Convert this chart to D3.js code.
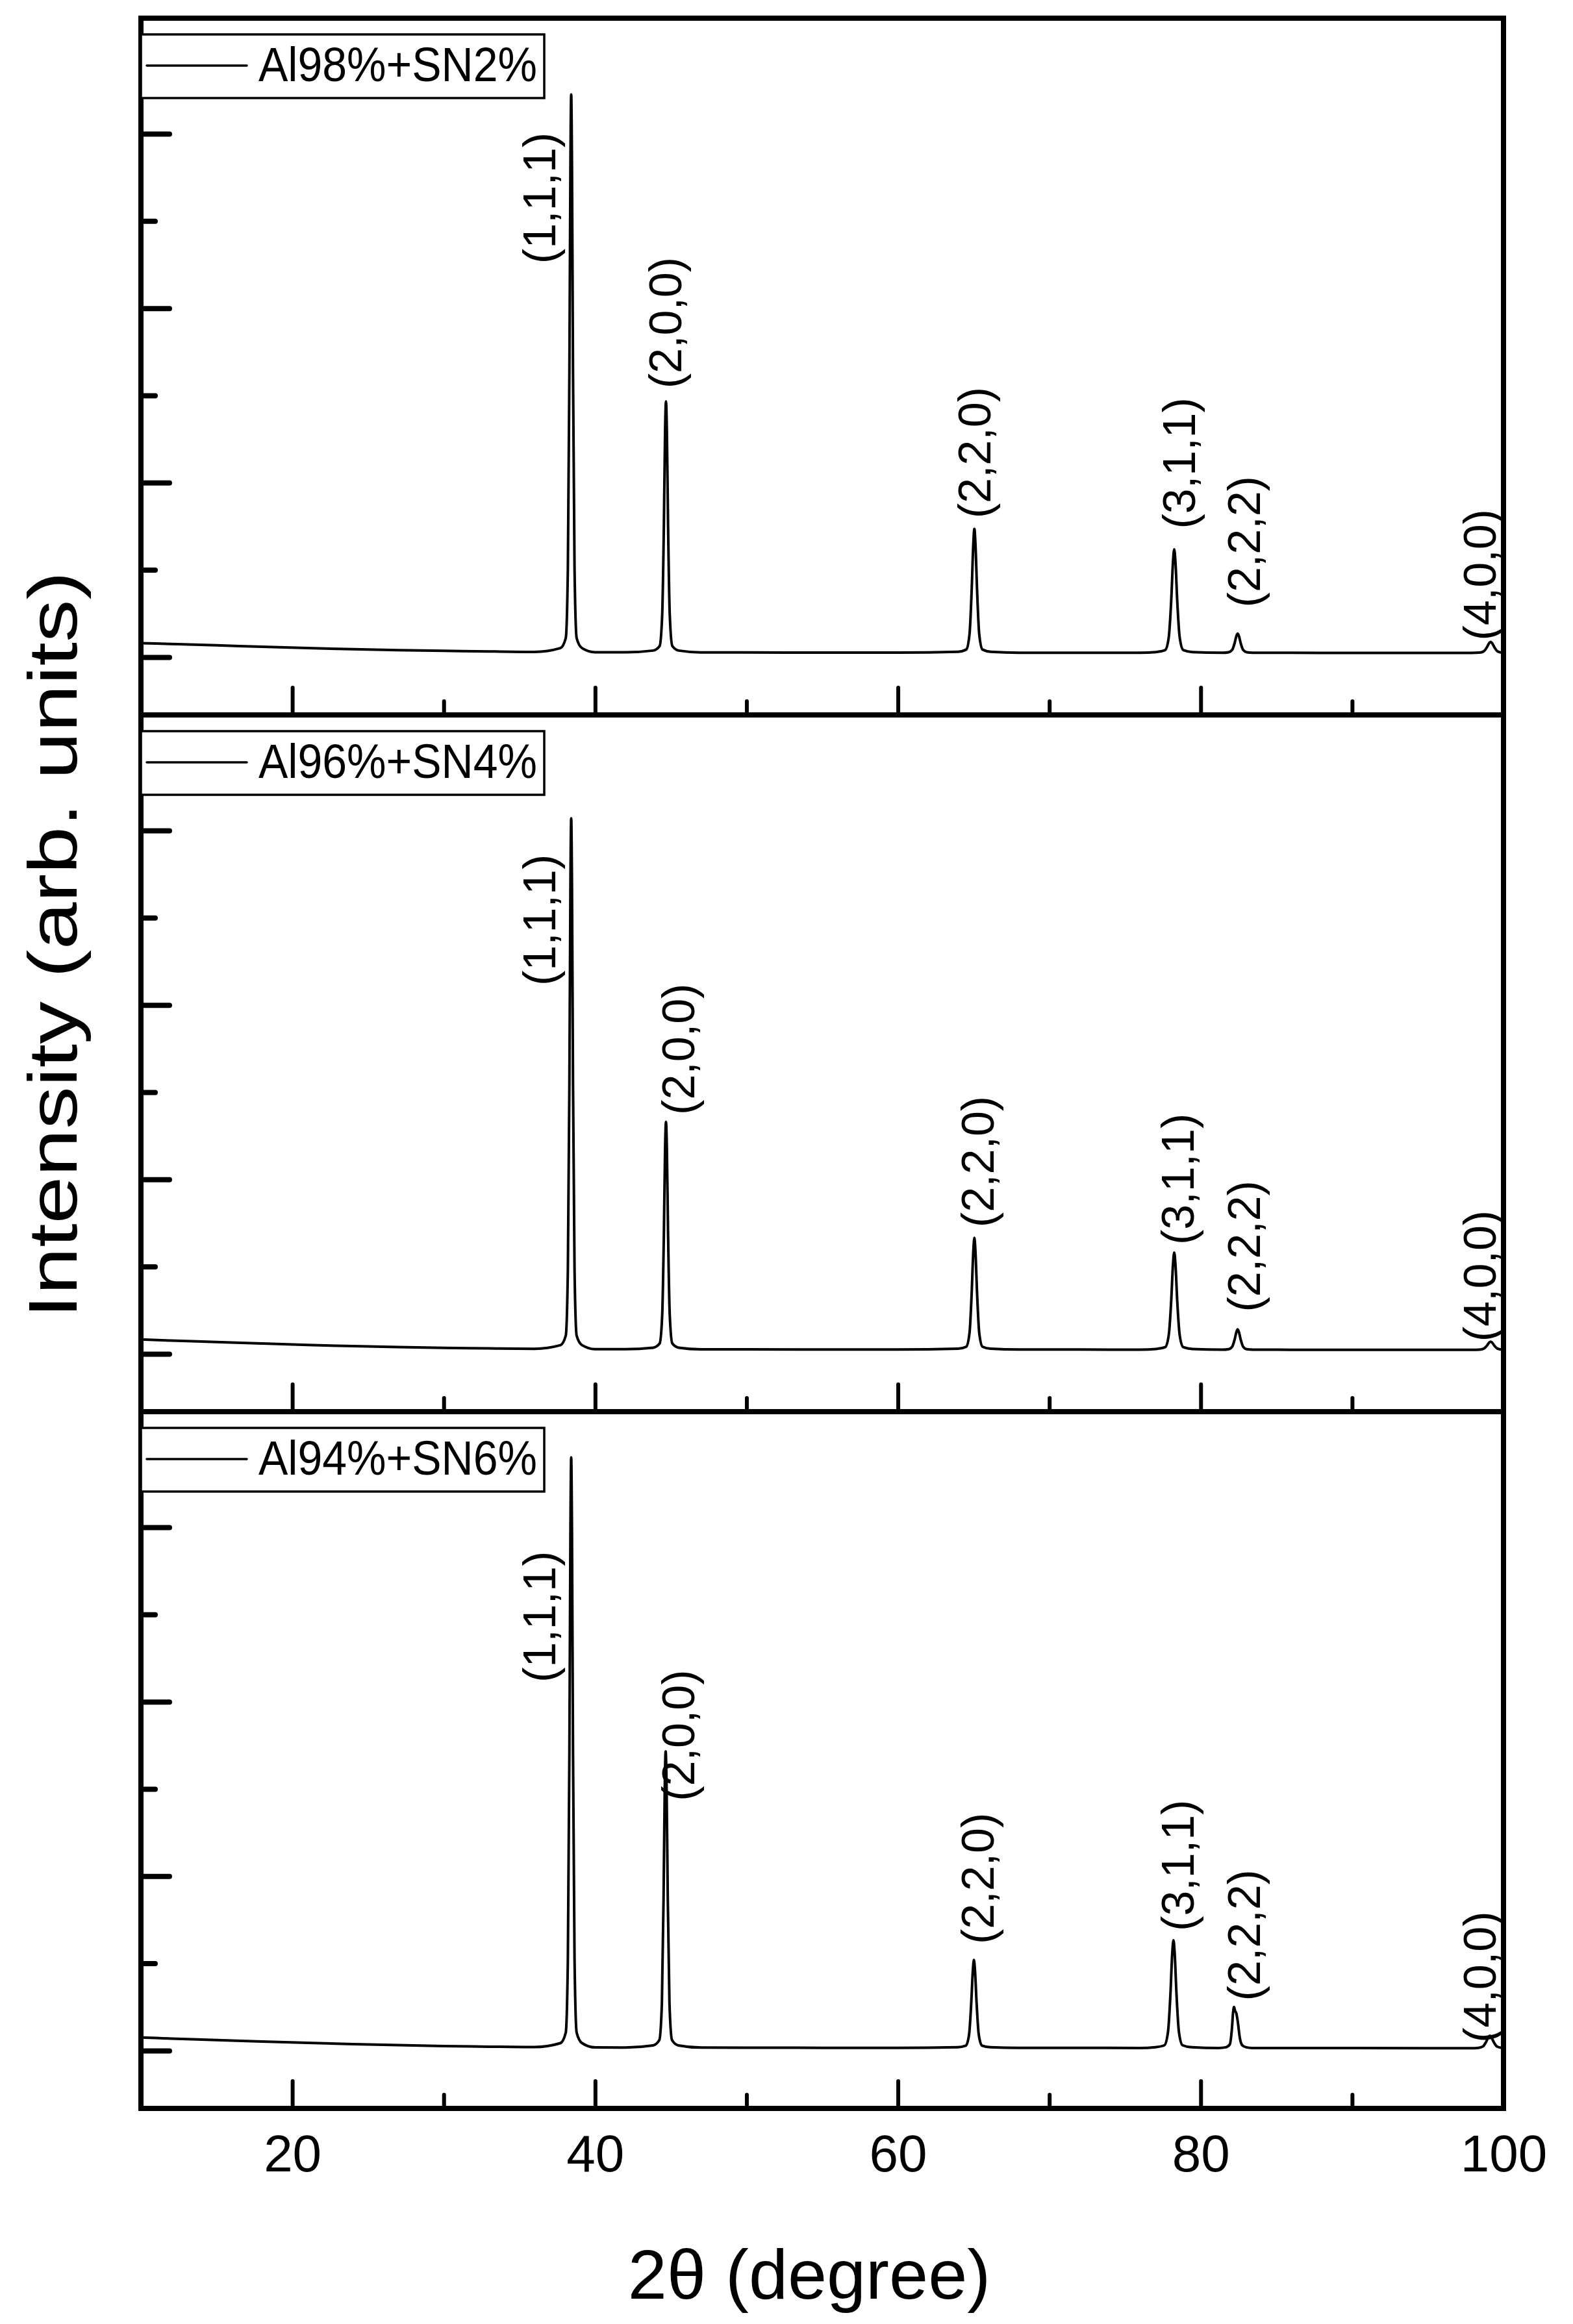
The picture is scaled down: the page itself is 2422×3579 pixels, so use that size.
<!DOCTYPE html>
<html>
<head>
<meta charset="utf-8">
<script src="https://cdn.jsdelivr.net/npm/d3@7"></script>
<style>
  html, body { margin: 0; padding: 0; background: #fff; }
  svg { display: block; }
  text { font-family: "Liberation Sans", Arial, sans-serif; fill: #000; }
</style>
</head>
<body>
<svg id="chart" width="2422" height="3579"></svg>
<script>
// ---------------- DATA ----------------
const samples = ["Al98%+SN2%", "Al96%+SN4%", "Al94%+SN6%"];
const hklLabels = ["(1,1,1)", "(2,0,0)", "(2,2,0)", "(3,1,1)", "(2,2,2)", "(4,0,0)"];
const xMajorTicks = [20, 40, 60, 80, 100];
const xMinorTicks = [30, 50, 70, 90];
const yMajorTicks = [0, 2000, 4000, 6000];
const yMinorTicks = [1000, 3000, 5000];

// label anchor 2θ per panel (centre of rotated text)
const labelX = [
  [36.35, 44.65, 65.1, 78.6, 82.9, 98.45],
  [36.35, 45.5, 65.3, 78.5, 82.9, 98.45],
  [36.35, 45.5, 65.3, 78.5, 82.9, 98.45]
];
// intensity at which each rotated label starts (its lower end)
const labelLevel = [
  [4510, 3080, 1590, 1470, 570, 190],
  [4220, 2740, 1450, 1250, 480, 140],
  [4220, 2860, 1220, 1370, 570, 90]
];

// Series: [2θ (degree), intensity (arb.)]
const seriesAl98 = [
  [10,160],[12,150],[15,135],[18,118],[21,103],[24,90],[27,80],[30,72],[33,65],[36,60],
  [37.70,103],[38.06,218],[38.20,1017],[38.30,3254],[38.37,5683],[38.42,6450],[38.47,5683],[38.54,3254],[38.64,1017],[38.78,218],[39.14,103],
  [40,56],[42,55],
  [43.84,75],[44.26,127],[44.43,486],[44.54,1493],[44.62,2585],[44.68,2930],[44.74,2585],[44.82,1493],[44.93,486],[45.10,127],[45.52,75],
  [47,54],[50,53],[55,52],[60,51],
  [63.97,61],[64.51,86],[64.73,264],[64.87,761],[64.98,1300],[65.05,1470],[65.12,1300],[65.23,761],[65.37,264],[65.59,86],[66.13,61],
  [68,50],[72,50],[76,50],
  [77.05,58],[77.65,80],[77.89,228],[78.05,643],[78.17,1093],[78.25,1235],[78.33,1093],[78.45,643],[78.61,228],[78.85,80],[79.45,58],
  [81.44,50],[81.84,56],[82.08,83],[82.24,160],[82.36,244],[82.44,270],[82.52,244],[82.64,160],[82.80,83],[83.04,56],[83.44,50],
  [86,49],[90,48],[95,48],
  [97.90,48],[98.40,51],[98.70,67],[98.90,112],[99.05,160],[99.15,175],[99.25,160],[99.40,112],[99.60,67],[99.90,51],[100,50]
];
const seriesAl96 = [
  [10,165],[12,152],[15,135],[18,118],[21,102],[24,88],[27,77],[30,68],[33,62],[36,58],
  [37.70,99],[38.06,208],[38.20,969],[38.30,3098],[38.37,5410],[38.42,6140],[38.47,5410],[38.54,3098],[38.64,969],[38.78,208],[39.14,99],
  [40,54],[42,53],
  [43.84,71],[44.26,118],[44.43,444],[44.54,1357],[44.62,2347],[44.68,2660],[44.74,2347],[44.82,1357],[44.93,444],[45.10,118],[45.52,71],
  [47,52],[50,51],[55,50],[60,50],
  [63.97,59],[64.51,82],[64.73,242],[64.87,690],[64.98,1176],[65.05,1330],[65.12,1176],[65.23,690],[65.37,242],[65.59,82],[66.13,59],
  [68,49],[72,49],[76,48],
  [77.05,56],[77.65,76],[77.89,215],[78.05,604],[78.17,1027],[78.25,1160],[78.33,1027],[78.45,604],[78.61,215],[78.85,76],[79.45,56],
  [81.44,48],[81.84,54],[82.08,83],[82.24,164],[82.36,252],[82.44,280],[82.52,252],[82.64,164],[82.80,83],[83.04,54],[83.44,48],
  [86,47],[90,47],[95,46],
  [97.90,46],[98.40,48],[98.70,60],[98.90,93],[99.05,129],[99.15,140],[99.25,129],[99.40,93],[99.60,60],[99.90,48],[100,47]
];
const seriesAl94 = [
  [10,150],[12,138],[15,120],[18,103],[21,88],[24,74],[27,62],[30,52],[33,45],[36,40],
  [37.70,85],[38.06,207],[38.20,1052],[38.30,3419],[38.37,5989],[38.42,6800],[38.47,5989],[38.54,3419],[38.64,1052],[38.78,207],[39.14,85],
  [40,36],[42,35],
  [43.82,59],[44.24,120],[44.41,544],[44.52,1733],[44.60,3023],[44.66,3430],[44.72,3023],[44.80,1733],[44.91,544],[45.08,120],[45.50,59],
  [47,34],[50,33],[55,32],[60,32],
  [63.94,39],[64.48,57],[64.70,183],[64.84,536],[64.95,919],[65.02,1040],[65.09,919],[65.20,536],[65.34,183],[65.56,57],[66.10,39],
  [68,31],[72,31],[76,30],
  [77.00,39],[77.60,61],[77.84,215],[78.00,648],[78.12,1117],[78.20,1265],[78.28,1117],[78.40,648],[78.56,215],[78.80,61],[79.40,39],
  [81.20,30],[81.65,38],[81.92,70],[82.06,250],[82.14,440],[82.20,500],[82.27,455],[82.35,430],[82.45,330],[82.58,150],[82.75,60],[83.00,38],[83.40,30],
  [86,29],[90,29],[95,28],
  [97.85,28],[98.35,32],[98.65,49],[98.85,99],[99.00,153],[99.10,170],[99.20,153],[99.35,99],[99.55,49],[99.85,32],[100,30]
];
const allSeries = [seriesAl98, seriesAl96, seriesAl94];

// ---------------- LAYOUT ----------------
const svg = d3.select("#chart");
const left = 217, right = 2315;
const top0 = 28, panelH = 1073;
const frameW = 8;
const narrow = "'Liberation Sans Narrow', 'Liberation Sans', Arial, sans-serif";

const x = d3.scaleLinear().domain([10, 100]).range([left, right]);

samples.forEach((name, i) => {
  const pTop = top0 + i * panelH;
  const pBot = pTop + panelH;
  const y = d3.scaleLinear().domain([-663, 7325]).range([pBot, pTop]);
  const g = svg.append("g");

  const clipId = "clip" + i;
  svg.append("clipPath").attr("id", clipId)
    .append("rect").attr("x", left).attr("y", pTop).attr("width", right - left).attr("height", panelH);

  // data line
  g.append("path")
    .datum(allSeries[i])
    .attr("clip-path", `url(#${clipId})`)
    .attr("fill", "none")
    .attr("stroke", "#000")
    .attr("stroke-width", 4)
    .attr("stroke-linejoin", "round")
    .attr("d", d3.line().x(d => x(d[0])).y(d => y(d[1])).curve(d3.curveMonotoneX));

  // y ticks (inward, no labels)
  const yMaj = d3.axisLeft(y).tickValues(yMajorTicks).tickSize(-44).tickFormat("");
  const yMin = d3.axisLeft(y).tickValues(yMinorTicks).tickSize(-22).tickFormat("");
  [yMaj, yMin].forEach(ax => {
    const a = g.append("g").attr("transform", `translate(${left},0)`).call(ax);
    a.select(".domain").remove();
    a.selectAll(".tick line").attr("stroke", "#000").attr("stroke-width", 8).attr("stroke-linecap", "round");
  });

  // x ticks (inward, at bottom of each panel)
  const xMaj = d3.axisBottom(x).tickValues(xMajorTicks.filter(v => v < 100)).tickSize(-42).tickFormat("");
  const xMin = d3.axisBottom(x).tickValues(xMinorTicks).tickSize(-21).tickFormat("");
  [xMaj, xMin].forEach(ax => {
    const a = g.append("g").attr("transform", `translate(0,${pBot})`).call(ax);
    a.select(".domain").remove();
    a.selectAll(".tick line").attr("stroke", "#000").attr("stroke-width", 6).attr("stroke-linecap", "round");
  });

  if (i === samples.length - 1) {
    const lab = d3.axisBottom(x).tickValues(xMajorTicks).tickSize(0).tickPadding(40);
    const a = g.append("g").attr("transform", `translate(0,${pBot})`).call(lab);
    a.select(".domain").remove();
    a.selectAll(".tick text")
      .attr("font-size", 80)
      .attr("font-family", narrow)
      .attr("fill", "#000");
  }

  // frame
  g.append("rect")
    .attr("x", left).attr("y", pTop)
    .attr("width", right - left).attr("height", panelH)
    .attr("fill", "none").attr("stroke", "#000").attr("stroke-width", frameW);

  // legend
  const lg = g.append("g").attr("transform", `translate(${left},${pTop})`);
  lg.append("rect").attr("x", 0).attr("y", 25).attr("width", 621).attr("height", 98)
    .attr("fill", "#fff").attr("stroke", "#000").attr("stroke-width", 3.5);
  lg.append("line").attr("x1", 9).attr("x2", 163).attr("y1", 73).attr("y2", 73)
    .attr("stroke", "#000").attr("stroke-width", 3.5).attr("stroke-linecap", "round");
  lg.append("text").attr("x", 181).attr("y", 97)
    .attr("transform", "translate(0,97) scale(1,1.1) translate(0,-97)")
    .attr("font-size", 68)
    .attr("font-family", narrow)
    .text(name);

  // peak labels
  hklLabels.forEach((h, k) => {
    g.append("text")
      .attr("transform", `translate(${x(labelX[i][k])},${y(labelLevel[i][k])}) rotate(-90)`)
      .attr("text-anchor", "start")
      .attr("dominant-baseline", "central")
      .attr("font-size", 70)
      .text(h);
  });
});

// axis titles
svg.append("text")
  .attr("transform", `translate(82,1455) rotate(-90) scale(1,0.8)`)
  .attr("text-anchor", "middle")
  .attr("dominant-baseline", "central")
  .attr("font-size", 131)
  .text("Intensity (arb. units)");

svg.append("text")
  .attr("x", 1246).attr("y", 3540)
  .attr("text-anchor", "middle")
  .attr("font-size", 108)
  .attr("font-family", narrow)
  .text("2θ (degree)");
</script>
</body>
</html>
